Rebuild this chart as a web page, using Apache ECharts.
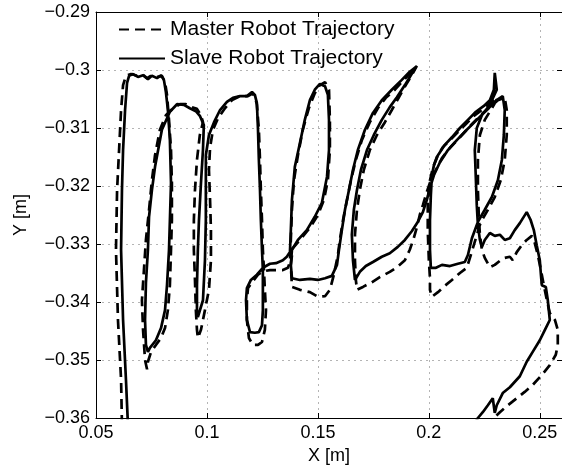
<!DOCTYPE html>
<html>
<head>
<meta charset="utf-8">
<script src="https://cdn.jsdelivr.net/npm/echarts@6/dist/echarts.min.js"></script>
<style>
  html, body { margin: 0; padding: 0; background: #fff; }
  #chart { width: 562px; height: 470px; }
</style>
</head>
<body>
<div id="chart"></div>
<script>
// master robot path (dashed), [x, y] in metres, in drawing order
var masterTrajectory = [
  [0.0617,-0.3612],[0.0613,-0.3534],[0.0599,-0.3431],[0.0590,-0.3310],[0.0595,-0.3207],[0.0604,-0.3138],[0.0613,-0.3069],[0.0622,-0.3026],[0.0635,-0.3010],
  [0.0658,-0.3007],[0.0685,-0.3010],[0.0707,-0.3007],[0.0730,-0.3014],[0.0752,-0.3009],[0.0775,-0.3012],[0.0797,-0.3010],[0.0811,-0.3021],
  [0.0820,-0.3043],[0.0829,-0.3086],[0.0838,-0.3138],[0.0842,-0.3195],[0.0842,-0.3259],[0.0838,-0.3310],[0.0833,-0.3371],[0.0824,-0.3414],[0.0811,-0.3445],[0.0793,-0.3462],[0.0770,-0.3474],
  [0.0748,-0.3486],[0.0734,-0.3503],[0.0730,-0.3516],[0.0721,-0.3500],[0.0712,-0.3448],[0.0707,-0.3397],[0.0716,-0.3345],[0.0725,-0.3293],[0.0739,-0.3241],[0.0752,-0.3190],[0.0766,-0.3147],[0.0788,-0.3103],[0.0815,-0.3078],[0.0847,-0.3066],[0.0878,-0.3059],
  [0.0905,-0.3059],[0.0932,-0.3064],[0.0955,-0.3067],[0.0973,-0.3078],[0.0982,-0.3090],
  [0.0968,-0.3112],[0.0955,-0.3155],[0.0946,-0.3207],[0.0941,-0.3259],[0.0941,-0.3310],[0.0946,-0.3362],[0.0950,-0.3414],[0.0955,-0.3448],[0.0959,-0.3462],
  [0.0973,-0.3448],[0.0991,-0.3414],[0.1009,-0.3379],[0.1018,-0.3328],[0.1018,-0.3276],[0.1014,-0.3224],[0.1009,-0.3172],[0.1014,-0.3134],[0.1027,-0.3103],[0.1050,-0.3083],[0.1081,-0.3066],[0.1113,-0.3052],[0.1149,-0.3045],[0.1185,-0.3045],[0.1203,-0.3041],
  [0.1216,-0.3045],[0.1225,-0.3060],
  [0.1234,-0.3103],[0.1239,-0.3155],[0.1243,-0.3207],[0.1248,-0.3259],[0.1252,-0.3310],[0.1257,-0.3345],[0.1261,-0.3379],[0.1266,-0.3414],[0.1261,-0.3448],[0.1248,-0.3469],[0.1230,-0.3474],
  [0.1207,-0.3474],[0.1189,-0.3462],[0.1180,-0.3431],[0.1180,-0.3397],[0.1185,-0.3376],[0.1203,-0.3366],[0.1230,-0.3353],[0.1252,-0.3347],[0.1284,-0.3345],
  [0.1311,-0.3345],[0.1342,-0.3345],[0.1365,-0.3341],[0.1374,-0.3331],
  [0.1378,-0.3293],[0.1383,-0.3241],[0.1392,-0.3190],[0.1410,-0.3147],[0.1432,-0.3103],[0.1459,-0.3066],[0.1486,-0.3040],[0.1509,-0.3026],[0.1532,-0.3021],
  [0.1550,-0.3034],[0.1554,-0.3086],[0.1554,-0.3138],[0.1545,-0.3190],[0.1527,-0.3224],[0.1500,-0.3250],[0.1464,-0.3272],[0.1419,-0.3293],[0.1387,-0.3307],
  [0.1378,-0.3336],[0.1383,-0.3374],[0.1419,-0.3379],[0.1464,-0.3383],[0.1500,-0.3391],[0.1532,-0.3390],[0.1554,-0.3379],[0.1572,-0.3353],[0.1590,-0.3319],
  [0.1599,-0.3293],[0.1613,-0.3259],[0.1631,-0.3224],[0.1649,-0.3190],[0.1671,-0.3155],[0.1698,-0.3121],[0.1734,-0.3090],[0.1770,-0.3066],[0.1806,-0.3048],[0.1847,-0.3034],[0.1887,-0.3017],[0.1923,-0.3003],[0.1946,-0.2993],
  [0.1923,-0.3009],[0.1896,-0.3026],[0.1865,-0.3047],[0.1833,-0.3069],[0.1802,-0.3090],[0.1766,-0.3112],[0.1734,-0.3138],[0.1707,-0.3172],[0.1689,-0.3207],[0.1676,-0.3241],[0.1667,-0.3284],[0.1667,-0.3328],[0.1671,-0.3362],[0.1676,-0.3379],
  [0.1703,-0.3374],[0.1743,-0.3366],[0.1779,-0.3357],[0.1824,-0.3348],[0.1856,-0.3340],[0.1892,-0.3328],[0.1914,-0.3310],[0.1932,-0.3290],[0.1946,-0.3271],[0.1959,-0.3250],[0.1973,-0.3233],[0.1991,-0.3210],[0.2009,-0.3190],
  [0.2032,-0.3172],[0.2059,-0.3152],[0.2095,-0.3134],[0.2140,-0.3116],[0.2185,-0.3097],[0.2230,-0.3079],[0.2275,-0.3064],[0.2311,-0.3052],[0.2342,-0.3048],
  [0.2351,-0.3069],[0.2351,-0.3112],[0.2342,-0.3155],[0.2324,-0.3190],[0.2297,-0.3219],[0.2266,-0.3241],[0.2234,-0.3262],[0.2212,-0.3290],[0.2189,-0.3319],[0.2171,-0.3341],
  [0.2140,-0.3350],[0.2104,-0.3362],[0.2072,-0.3372],[0.2041,-0.3383],[0.2014,-0.3391],[0.2005,-0.3379],[0.2005,-0.3359],
  [0.2000,-0.3328],[0.1995,-0.3276],[0.1995,-0.3224],[0.2005,-0.3190],[0.2018,-0.3169],
  [0.2036,-0.3150],[0.2063,-0.3133],[0.2095,-0.3121],[0.2131,-0.3107],[0.2167,-0.3093],[0.2203,-0.3079],[0.2239,-0.3069],[0.2270,-0.3059],[0.2293,-0.3052],[0.2311,-0.3048],
  [0.2284,-0.3066],[0.2252,-0.3086],[0.2230,-0.3112],[0.2221,-0.3155],[0.2221,-0.3207],[0.2225,-0.3250],[0.2230,-0.3284],[0.2239,-0.3310],
  [0.2252,-0.3324],[0.2275,-0.3340],[0.2297,-0.3336],[0.2320,-0.3329],[0.2342,-0.3324],[0.2365,-0.3322],[0.2378,-0.3328],[0.2396,-0.3314],[0.2419,-0.3302],[0.2441,-0.3293],[0.2464,-0.3286],
  [0.2477,-0.3298],[0.2491,-0.3319],[0.2505,-0.3345],[0.2518,-0.3371],[0.2532,-0.3397],[0.2545,-0.3419],[0.2568,-0.3431],[0.2581,-0.3448],[0.2581,-0.3474],[0.2572,-0.3491],
  [0.2545,-0.3509],[0.2509,-0.3526],[0.2468,-0.3543],[0.2432,-0.3555],[0.2396,-0.3566],[0.2356,-0.3578],[0.2320,-0.3590],[0.2293,-0.3600],[0.2275,-0.3612]
];

// slave robot path (solid)
var slaveTrajectory = [
  [0.0644,-0.3612],[0.0635,-0.3534],[0.0622,-0.3431],[0.0613,-0.3310],[0.0617,-0.3207],[0.0622,-0.3138],[0.0631,-0.3069],[0.0640,-0.3022],[0.0649,-0.3010],
  [0.0667,-0.3007],[0.0689,-0.3012],[0.0712,-0.3009],[0.0734,-0.3016],[0.0752,-0.3010],[0.0775,-0.3014],[0.0793,-0.3009],[0.0806,-0.3017],
  [0.0815,-0.3038],[0.0824,-0.3069],[0.0833,-0.3121],[0.0838,-0.3195],[0.0833,-0.3259],[0.0829,-0.3310],[0.0820,-0.3371],[0.0811,-0.3414],[0.0793,-0.3445],[0.0770,-0.3466],[0.0743,-0.3479],
  [0.0734,-0.3486],[0.0725,-0.3474],[0.0721,-0.3431],[0.0725,-0.3367],[0.0734,-0.3310],[0.0739,-0.3253],[0.0752,-0.3207],[0.0766,-0.3167],[0.0797,-0.3103],[0.0833,-0.3072],[0.0865,-0.3059],
  [0.0896,-0.3060],[0.0923,-0.3066],[0.0950,-0.3071],[0.0968,-0.3079],[0.0986,-0.3095],
  [0.0982,-0.3138],[0.0973,-0.3195],[0.0964,-0.3259],[0.0959,-0.3310],[0.0955,-0.3371],[0.0955,-0.3414],[0.0959,-0.3426],
  [0.0968,-0.3428],[0.0982,-0.3397],[0.0991,-0.3328],[0.0995,-0.3259],[0.0995,-0.3195],[0.0995,-0.3147],[0.1009,-0.3112],[0.1032,-0.3090],[0.1059,-0.3069],[0.1090,-0.3055],[0.1117,-0.3048],[0.1149,-0.3045],[0.1180,-0.3045],[0.1203,-0.3038],
  [0.1216,-0.3043],[0.1225,-0.3057],
  [0.1230,-0.3103],[0.1234,-0.3155],[0.1239,-0.3207],[0.1243,-0.3259],[0.1248,-0.3310],[0.1252,-0.3345],[0.1252,-0.3379],[0.1252,-0.3414],[0.1248,-0.3440],[0.1234,-0.3452],[0.1216,-0.3453],
  [0.1194,-0.3452],[0.1180,-0.3431],[0.1176,-0.3397],[0.1180,-0.3376],[0.1198,-0.3362],[0.1225,-0.3353],[0.1252,-0.3341],[0.1284,-0.3334],
  [0.1311,-0.3333],[0.1342,-0.3328],[0.1360,-0.3322],[0.1374,-0.3314],
  [0.1378,-0.3276],[0.1383,-0.3224],[0.1396,-0.3167],[0.1419,-0.3126],[0.1441,-0.3086],[0.1464,-0.3052],[0.1486,-0.3034],[0.1509,-0.3024],
  [0.1532,-0.3028],[0.1545,-0.3043],
  [0.1550,-0.3086],[0.1550,-0.3138],[0.1541,-0.3184],[0.1518,-0.3229],[0.1486,-0.3253],[0.1450,-0.3276],[0.1410,-0.3293],[0.1383,-0.3310],
  [0.1378,-0.3336],[0.1383,-0.3359],[0.1419,-0.3362],[0.1464,-0.3360],[0.1500,-0.3362],[0.1532,-0.3359],[0.1563,-0.3355],[0.1586,-0.3336],[0.1595,-0.3310],
  [0.1608,-0.3276],[0.1622,-0.3241],[0.1640,-0.3207],[0.1658,-0.3172],[0.1680,-0.3138],[0.1712,-0.3103],[0.1748,-0.3074],[0.1788,-0.3052],[0.1833,-0.3034],[0.1878,-0.3017],[0.1914,-0.3003],[0.1941,-0.2995],
  [0.1919,-0.3009],[0.1892,-0.3026],[0.1856,-0.3047],[0.1824,-0.3064],[0.1788,-0.3086],[0.1752,-0.3112],[0.1721,-0.3138],[0.1694,-0.3172],[0.1676,-0.3207],[0.1662,-0.3241],[0.1653,-0.3284],[0.1658,-0.3328],[0.1667,-0.3362],
  [0.1689,-0.3348],[0.1716,-0.3338],[0.1748,-0.3331],[0.1788,-0.3322],[0.1824,-0.3316],[0.1860,-0.3305],[0.1892,-0.3293],[0.1923,-0.3278],[0.1950,-0.3262],[0.1973,-0.3245],[0.1991,-0.3224],[0.2005,-0.3203],
  [0.2023,-0.3181],[0.2050,-0.3159],[0.2086,-0.3138],[0.2126,-0.3121],[0.2171,-0.3103],[0.2216,-0.3086],[0.2261,-0.3069],[0.2302,-0.3053],[0.2333,-0.3045],
  [0.2342,-0.3069],[0.2338,-0.3112],[0.2329,-0.3155],[0.2311,-0.3190],[0.2284,-0.3219],[0.2252,-0.3241],[0.2221,-0.3262],[0.2194,-0.3290],[0.2176,-0.3319],[0.2162,-0.3331],
  [0.2131,-0.3334],[0.2095,-0.3338],[0.2059,-0.3336],[0.2032,-0.3341],[0.2009,-0.3341],
  [0.2005,-0.3310],[0.2005,-0.3259],[0.2009,-0.3216],[0.2014,-0.3181],[0.2023,-0.3164],
  [0.2041,-0.3147],[0.2072,-0.3129],[0.2104,-0.3116],[0.2140,-0.3100],[0.2176,-0.3086],[0.2212,-0.3072],[0.2248,-0.3062],[0.2275,-0.3052],[0.2293,-0.3034],[0.2297,-0.3005],[0.2306,-0.3034],
  [0.2275,-0.3060],[0.2239,-0.3078],[0.2216,-0.3100],[0.2207,-0.3138],[0.2212,-0.3190],[0.2216,-0.3233],[0.2221,-0.3267],[0.2230,-0.3293],[0.2239,-0.3305],
  [0.2252,-0.3293],[0.2275,-0.3281],[0.2297,-0.3286],[0.2320,-0.3284],[0.2342,-0.3293],[0.2365,-0.3290],[0.2387,-0.3276],[0.2410,-0.3264],[0.2441,-0.3245],
  [0.2459,-0.3259],[0.2473,-0.3276],[0.2486,-0.3302],[0.2500,-0.3328],[0.2505,-0.3353],[0.2509,-0.3371],[0.2527,-0.3374],[0.2536,-0.3397],[0.2545,-0.3431],
  [0.2523,-0.3448],[0.2500,-0.3466],[0.2468,-0.3486],[0.2441,-0.3503],[0.2410,-0.3528],[0.2365,-0.3547],[0.2333,-0.3557],[0.2306,-0.3578],[0.2297,-0.3591],
  [0.2288,-0.3566],[0.2266,-0.3578],[0.2243,-0.3590],[0.2221,-0.3600],[0.2203,-0.3612]
];

var seriesNames = ['Master Robot Trajectory', 'Slave Robot Trajectory'];
var xRange = [0.05, 0.26];
var yRange = [-0.36, -0.29];

var font = '"Liberation Sans", Arial, Helvetica, sans-serif';

// minus sign like the original plot
function tickText(v) {
    return String(Number(v.toFixed(2))).replace('-', '\u2212');
}

var chart = echarts.init(document.getElementById('chart'));

var gridLine = {
    show: true,
    lineStyle: { color: '#b4b4b4', width: 1, type: [2, 4] }
};

var option = {
    animation: false,
    backgroundColor: '#fff',
    grid: { left: 96, top: 12, right: 0, bottom: 52 },
    legend: {
        orient: 'vertical',
        left: 113,
        top: 14,
        itemWidth: 46,
        itemHeight: 14,
        itemGap: 8,
        // no marker on the legend line, only the line itself
        itemStyle: { color: 'rgba(0,0,0,0)', borderWidth: 0, opacity: 0 },
        textStyle: { fontFamily: font, fontSize: 21, color: '#000' },
        data: seriesNames
    },
    xAxis: [
        {
            type: 'value',
            min: xRange[0],
            max: xRange[1],
            interval: 0.05,
            name: 'X [m]',
            nameLocation: 'middle',
            nameGap: 27,
            nameTextStyle: { fontFamily: font, fontSize: 18, color: '#000' },
            axisLine: { lineStyle: { color: '#000', width: 1 } },
            axisTick: { inside: true, length: 5, lineStyle: { color: '#000' } },
            axisLabel: { fontFamily: font, fontSize: 18, color: '#000', margin: 6, showMaxLabel: false, formatter: tickText },
            splitLine: gridLine
        },
        {
            type: 'value',
            position: 'top',
            min: xRange[0],
            max: xRange[1],
            interval: 0.05,
            axisLine: { lineStyle: { color: '#000', width: 1 } },
            axisTick: { inside: true, length: 5, lineStyle: { color: '#000' } },
            axisLabel: { show: false },
            splitLine: { show: false }
        }
    ],
    yAxis: [
        {
            type: 'value',
            min: yRange[0],
            max: yRange[1],
            interval: 0.01,
            name: 'Y [m]',
            nameLocation: 'middle',
            nameGap: 66,
            nameTextStyle: { fontFamily: font, fontSize: 18, color: '#000' },
            axisLine: { show: true, lineStyle: { color: '#000', width: 1 } },
            axisTick: { show: true, inside: true, length: 5, lineStyle: { color: '#000' } },
            axisLabel: { fontFamily: font, fontSize: 18, color: '#000', margin: 6, formatter: tickText },
            splitLine: gridLine
        },
        {
            type: 'value',
            position: 'right',
            min: yRange[0],
            max: yRange[1],
            interval: 0.01,
            axisLine: { show: true, lineStyle: { color: '#000', width: 1 } },
            axisTick: { show: true, inside: true, length: 5, lineStyle: { color: '#000' } },
            axisLabel: { show: false },
            splitLine: { show: false }
        }
    ],
    series: [
        {
            name: seriesNames[0],
            type: 'line',
            symbol: 'none',
            clip: true,
            lineStyle: { color: '#000', width: 2.7, type: [10, 6] },
            itemStyle: { color: '#000' },
            data: masterTrajectory
        },
        {
            name: seriesNames[1],
            type: 'line',
            symbol: 'none',
            clip: true,
            lineStyle: { color: '#000', width: 2.7, type: 'solid' },
            itemStyle: { color: '#000' },
            data: slaveTrajectory
        }
    ]
};

chart.setOption(option);
</script>
</body>
</html>
